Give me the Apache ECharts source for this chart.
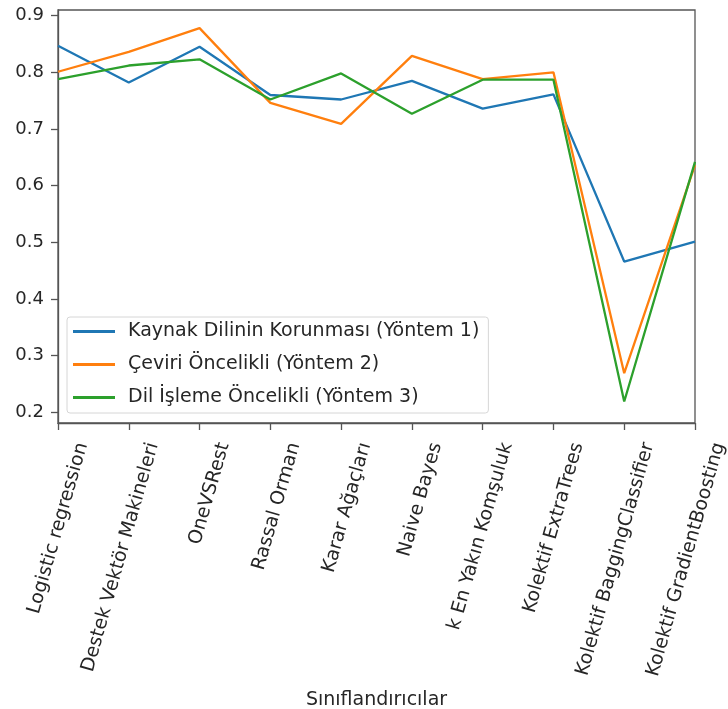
<!DOCTYPE html>
<html><head><meta charset="utf-8">
<script src="https://cdn.jsdelivr.net/npm/echarts@6/dist/echarts.min.js"></script>
<style>html,body{margin:0;padding:0;background:#fff}#c{width:728px;height:709px}</style>
</head><body><div id="c"></div>
<script>
const categories = ["Logistic regression","Destek Vektör Makineleri","OneVSRest","Rassal Orman","Karar Ağaçları","Naive Bayes","k En Yakın Komşuluk","Kolektif ExtraTrees","Kolektif BaggingClassifier","Kolektif GradientBoosting"];
const seriesNames = ["Kaynak Dilinin Korunması (Yöntem 1)","Çeviri Öncelikli (Yöntem 2)","Dil İşleme Öncelikli (Yöntem 3)"];
const yontem1 = [0.847,0.782,0.845,0.760,0.752,0.785,0.736,0.761,0.466,0.501];
const yontem2 = [0.801,0.836,0.878,0.746,0.709,0.829,0.788,0.800,0.269,0.636];
const yontem3 = [0.788,0.812,0.823,0.752,0.798,0.727,0.787,0.787,0.219,0.642];
const yTicks = [0.2,0.3,0.4,0.5,0.6,0.7,0.8,0.9];
const colors = ["#1f77b4","#ff7f0e","#2ca02c"];
const font = "DejaVu Sans";
const txt = "#262626";
const chart = echarts.init(document.getElementById('c'));
const mk = (name, data, i) => ({name, type:'line', data, symbol:'none', lineStyle:{width:2.3, color:colors[i]}, itemStyle:{color:colors[i]}, z:2+i});
chart.setOption({
  animation:false,
  grid:{left:58, right:33, top:10, bottom:286, containLabel:false, outerBoundsMode:'none', show:true, borderColor:'#555', borderWidth:1.3, backgroundColor:'transparent'},
  legend:{orient:'vertical', left:67, top:317, icon:'rect', itemWidth:42, itemHeight:3, itemGap:14,
    padding:[5,9,6,6], borderColor:'#d6d6d6', borderWidth:1, borderRadius:3, backgroundColor:'rgba(255,255,255,0.8)',
    textStyle:{fontFamily:font, fontSize:19, color:txt, padding:[0,0,0,8]},
    data:seriesNames},
  xAxis:{type:'category', data:categories, boundaryGap:false,
    name:'Sınıflandırıcılar', nameLocation:'middle', nameGap:258,
    nameTextStyle:{fontFamily:font, fontSize:19, color:txt},
    axisLine:{lineStyle:{color:'#555', width:1.3}},
    axisTick:{show:true, length:7, lineStyle:{color:'#555', width:1.3}},
    axisLabel:{interval:0, rotate:74, margin:13, fontFamily:font, fontSize:19, color:txt, verticalAlign:'top', lineHeight:51, hideOverlap:false},
    splitLine:{show:false}},
  yAxis:{type:'value', min:0.181, max:0.91,
    axisLine:{show:true, lineStyle:{color:'#555', width:1.3}},
    axisTick:{show:true, length:7, customValues:yTicks, lineStyle:{color:'#555', width:1.3}},
    axisLabel:{customValues:yTicks, formatter:v=>v.toFixed(1), fontFamily:font, fontSize:18, color:txt, margin:14},
    splitLine:{show:false}},
  series:[mk(seriesNames[0], yontem1, 0), mk(seriesNames[1], yontem2, 1), mk(seriesNames[2], yontem3, 2)]
});
</script></body></html>
